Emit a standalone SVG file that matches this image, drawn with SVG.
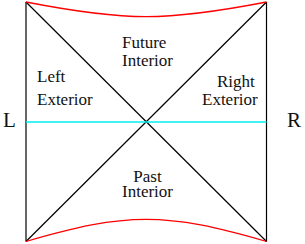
<svg xmlns="http://www.w3.org/2000/svg" width="305" height="244" viewBox="0 0 305 244">
<style>
.lbl{font-family:"Liberation Serif","Times New Roman",serif;font-size:17px;fill:#111}
.side{font-family:"Liberation Serif","Times New Roman",serif;font-size:21px;fill:#111}
.edge{stroke:#000;stroke-width:1.2;fill:none}
.sing{stroke:#ff0000;stroke-width:1.3;fill:none}
.slice{stroke:#00f0f0;stroke-width:1.5;fill:none}
</style>
<rect width="305" height="244" fill="#fff"/>
<g id="connectors">
<line class="edge" x1="26" y1="2" x2="26" y2="241.5"/>
<line class="edge" x1="266.5" y1="2" x2="266.5" y2="241.5"/>
<line class="edge" x1="26" y1="2" x2="266.5" y2="241.5"/>
<line class="edge" x1="266.5" y1="2" x2="26" y2="241.5"/>
<line class="slice" x1="26" y1="122" x2="266.5" y2="122"/>
<path class="sing" d="M26,2 C126,21.5 166,21.5 266.5,2"/>
<path class="sing" d="M26,241.5 C126,212 166,212 266.5,241.5"/>
</g>
<g id="future-interior">
<text class="lbl" x="122" y="48">Future</text>
<text class="lbl" x="122" y="65.5">Interior</text>
</g>
<g id="past-interior">
<text class="lbl" x="147.5" y="181.5" text-anchor="middle">Past</text>
<text class="lbl" x="147.5" y="197" text-anchor="middle">Interior</text>
</g>
<g id="left-exterior">
<text class="lbl" x="37" y="82">Left</text>
<text class="lbl" x="37" y="105">Exterior</text>
</g>
<g id="right-exterior">
<text class="lbl" x="217" y="87">Right</text>
<text class="lbl" x="202" y="105">Exterior</text>
</g>
<g id="L"><text class="side" x="3" y="127">L</text></g>
<g id="R"><text class="side" x="287" y="127">R</text></g>
</svg>
